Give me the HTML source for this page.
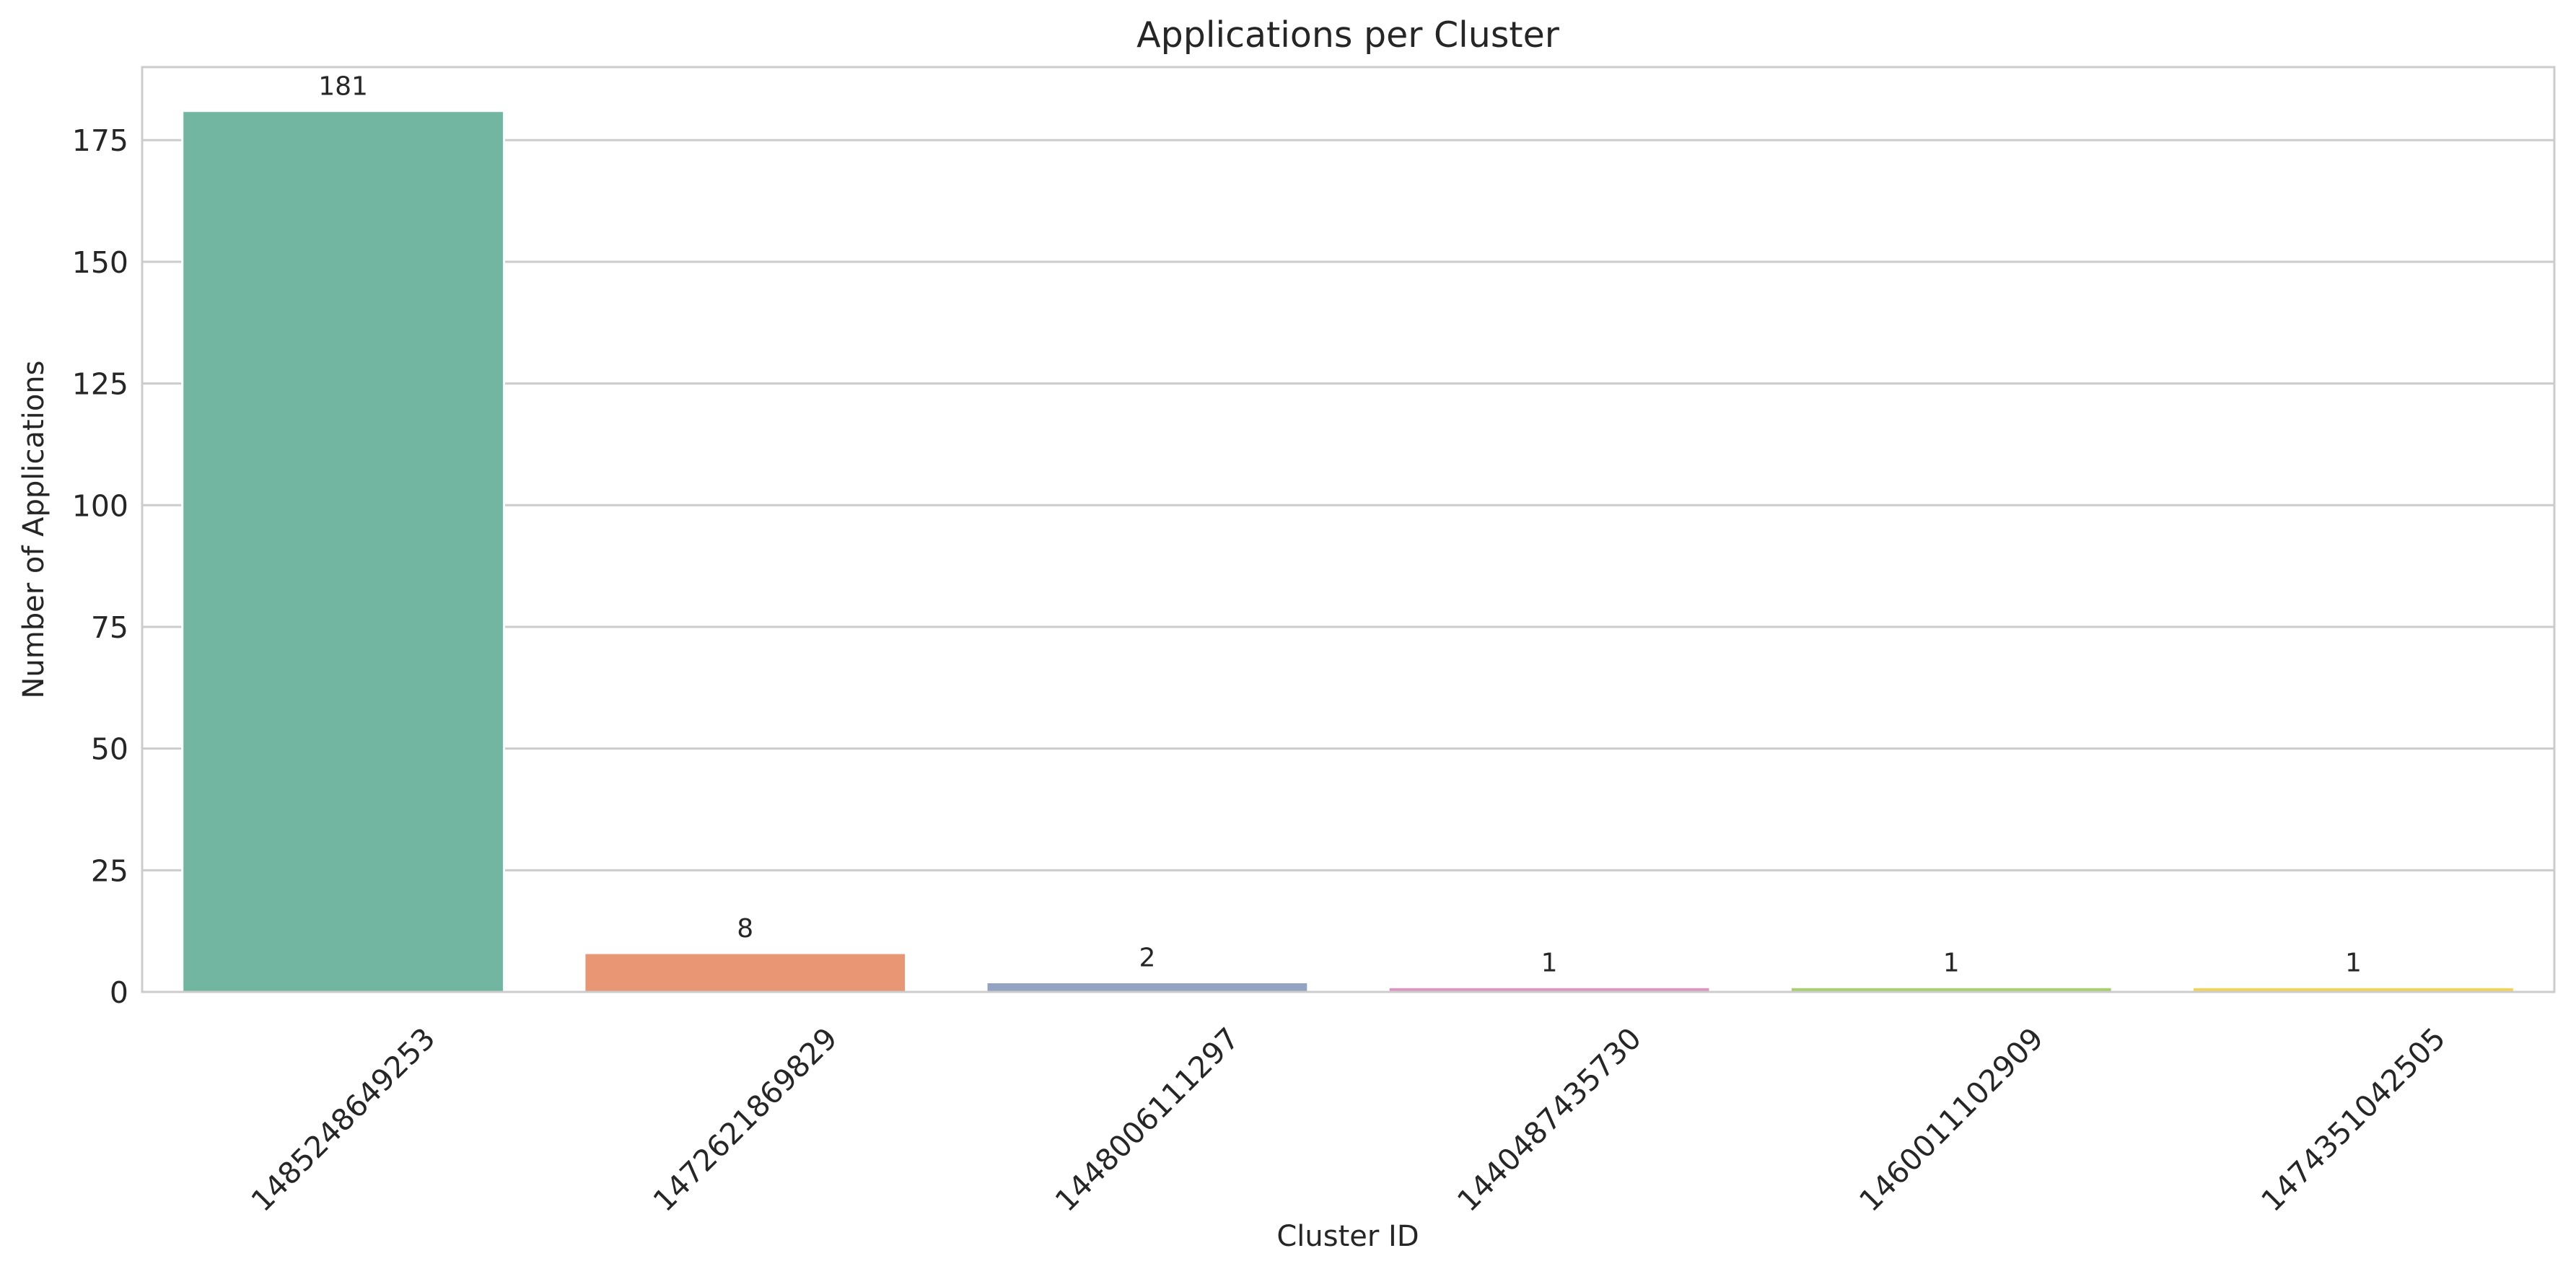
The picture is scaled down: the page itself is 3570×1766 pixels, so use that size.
<!DOCTYPE html>
<html><head><meta charset="utf-8"><style>
html,body{margin:0;padding:0;background:#fff;}
svg{display:block;font-family:"DejaVu Sans","Liberation Sans",sans-serif;}
</style></head><body>
<svg id="chart" width="3570" height="1766" viewBox="0 0 3570 1766" xmlns="http://www.w3.org/2000/svg">
<rect width="3570" height="1766" fill="#fff"/>
<g id="grid"></g>
<g id="bars"></g>
<g id="labels"></g>
<rect x="197" y="93" width="3343" height="1282" fill="none" stroke="#cccccc" stroke-width="3"/>
<text x="1868" y="65" font-size="49" text-anchor="middle" fill="#262626">Applications per Cluster</text>
<text x="1868" y="1727" font-size="40" text-anchor="middle" fill="#262626">Cluster ID</text>
<text transform="translate(60,734) rotate(-90)" font-size="40" text-anchor="middle" fill="#262626">Number of Applications</text>
</svg>
<script>
const categories = ["1485248649253","1472621869829","1448006111297","1440487435730","1460011102909","1474351042505"];
const values = [181, 8, 2, 1, 1, 1];
const yTicks = [0, 25, 50, 75, 100, 125, 150, 175];
const colors = ["#72b6a1","#e99675","#95a3c3","#db96c0","#a9cf6c","#f0d35b"];

const NS = "http://www.w3.org/2000/svg";
const L = 197, R = 3540, T = 93, B = 1375, YMAX = 190;
const y = v => B - (v / YMAX) * (B - T);
const step = (R - L) / categories.length;
const x = i => L + step * (i + 0.5);
function mk(tag, attrs, parent, txt) {
  const e = document.createElementNS(NS, tag);
  for (const k in attrs) e.setAttribute(k, attrs[k]);
  if (txt !== undefined) e.textContent = txt;
  parent.appendChild(e);
  return e;
}
const grid = document.getElementById('grid');
const bars = document.getElementById('bars');
const labels = document.getElementById('labels');
yTicks.forEach(t => {
  const g = mk('line', {x1: L, x2: R, y1: y(t), y2: y(t), stroke: '#cccccc', 'stroke-width': 3}, grid);
  
  
  const lb = mk('text', {x: 178, y: y(t) + 15, 'font-size': 41, 'text-anchor': 'end', fill: '#262626'}, labels, String(t));
  
  
});
categories.forEach((c, i) => {
  const bw = step * 0.8;
  const r = mk('rect', {x: x(i) - bw / 2, y: y(values[i]), width: bw, height: B - y(values[i]), fill: colors[i], stroke: '#ffffff', 'stroke-width': 3}, bars);
  
  
  const v = mk('text', {x: x(i), y: y(values[i]) - 22, 'font-size': 36, 'text-anchor': 'middle', fill: '#262626'}, labels, String(values[i]));
  
  
  const cx = x(i), cy = 1552;
  const tl = mk('text', {x: cx, y: cy + 14, 'font-size': 41, 'text-anchor': 'middle', fill: '#262626', transform: 'rotate(-45 ' + cx + ' ' + cy + ')'}, labels, c);
  
  
});
</script>
</body></html>
